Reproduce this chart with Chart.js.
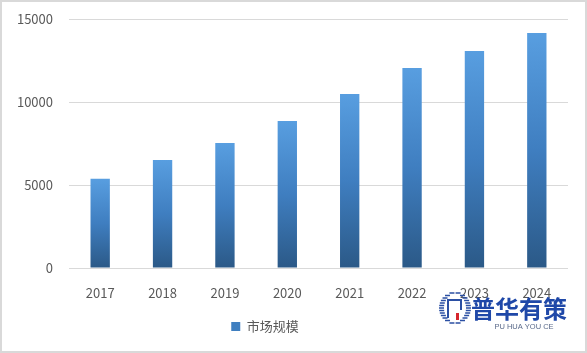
<!DOCTYPE html>
<html>
<head>
<meta charset="utf-8">
<script src="https://cdn.jsdelivr.net/npm/chart.js@4"></script>
<style>
  html, body { margin: 0; padding: 0; background: #fff; }
  #wrap { width: 587px; height: 353px; box-sizing: border-box; border: 2px solid #d9d9d9; }
</style>
</head>
<body>
<div id="wrap"><canvas id="chart" width="583" height="349"></canvas></div>
<script>
'use strict'

var years = ["2017", "2018", "2019", "2020", "2021", "2022", "2023", "2024"];
var marketSize = [5380, 6500, 7530, 8860, 10480, 12050, 13070, 14160];
var yTicks = [0, 5000, 10000, 15000];
var seriesName = "市场规模";

var fontFamily = "'Noto Sans CJK SC', 'Noto Sans', sans-serif";

// gradient per bar, light at top and dark at the bottom
function barGradient(context) {
    var chart = context.chart;
    if (!chart.chartArea || context.type !== 'data') {
        return '#3f7fc0';
    }
    var yScale = chart.scales.y;
    var top = yScale.getPixelForValue(context.parsed.y);
    var bottom = yScale.getPixelForValue(0);
    var g = chart.ctx.createLinearGradient(0, top, 0, bottom);
    g.addColorStop(0, '#589ee0');
    g.addColorStop(0.5, '#3f7ec0');
    g.addColorStop(1, '#2b5987');
    return g;
}

// legend sits a bit left of centre in the original
var legendShift = {
    id: 'legendShift',
    afterLayout: function (chart) {
        if (chart.legend) {
            chart.legend.left -= 20;
            chart.legend.right -= 20;
        }
    }
};

// watermark drawn on top of the chart (canvas is offset 2px by the border)
var watermark = {
    id: 'watermark',
    afterDraw: function (chart) {
        var ctx = chart.ctx;
        ctx.save();
        var cx = 453, cy = 306, r = 16;
        ctx.strokeStyle = '#2b4fa3';
        ctx.lineWidth = 1.6;
        for (var i = -6; i <= 6; i++) {
            var y = cy + i * 2.5;
            var dx = Math.sqrt(Math.max(0, r * r - (i * 2.5) * (i * 2.5)));
            ctx.beginPath();
            ctx.moveTo(cx - dx, y);
            ctx.lineTo(cx - dx + 5, y);
            ctx.moveTo(cx + dx - 5, y);
            ctx.lineTo(cx + dx, y);
            ctx.stroke();
        }
        ctx.lineWidth = 2;
        ctx.beginPath();
        ctx.moveTo(cx - 7, cy + 10);
        ctx.lineTo(cx - 7, cy - 8);
        ctx.lineTo(cx + 6, cy - 8);
        ctx.lineTo(cx + 6, cy + 2);
        ctx.stroke();
        ctx.fillStyle = '#d6262c';
        ctx.fillRect(cx + 1, cy + 5, 3, 7);
        ctx.fillStyle = '#1f48a8';
        ctx.font = "bold 24px " + fontFamily;
        ctx.textBaseline = 'middle';
        ctx.textAlign = 'left';
        ctx.fillText("普华有策", 469, 307);
        ctx.fillStyle = '#5a6a8a';
        ctx.font = "7.5px 'Liberation Sans', sans-serif";
        ctx.textAlign = 'center';
        ctx.fillText("PU HUA YOU CE", 522, 325);
        ctx.restore();
    }
};

var ctx = document.getElementById('chart').getContext('2d');
var chart = new Chart(ctx, {
    type: 'bar',
    data: {
        labels: years,
        datasets: [{
            label: seriesName,
            data: marketSize,
            backgroundColor: barGradient,
            borderWidth: 0,
            categoryPercentage: 1,
            barPercentage: 0.31
        }]
    },
    options: {
        responsive: false,
        animation: false,
        layout: { padding: { left: 0, right: 17, top: 17, bottom: 8 } },
        scales: {
            x: {
                grid: { display: false },
                border: { display: false },
                ticks: {
                    color: '#595959',
                    font: { family: fontFamily, size: 13 },
                    padding: 9
                },
                afterFit: function (scale) { scale.height = 40; }
            },
            y: {
                min: 0,
                max: 15000,
                afterBuildTicks: function (scale) {
                    scale.ticks = yTicks.map(function (v) { return { value: v }; });
                },
                grid: { color: '#d9d9d9', lineWidth: 1, drawTicks: true, tickLength: 12, tickColor: 'rgba(0,0,0,0)' },
                border: { display: false },
                ticks: {
                    color: '#595959',
                    font: { family: fontFamily, size: 13 },
                    padding: 4,
                    callback: function (value) { return String(value); }
                },
                afterFit: function (scale) { scale.width = 67; }
            }
        },
        plugins: {
            tooltip: { enabled: false },
            legend: {
                position: 'bottom',
                labels: {
                    color: '#595959',
                    font: { family: fontFamily, size: 13 },
                    boxWidth: 9,
                    boxHeight: 9,
                    padding: 12,
                    generateLabels: function (chart) {
                        return [{
                            text: seriesName,
                            fillStyle: '#3f7fc0',
                            strokeStyle: '#3f7fc0',
                            lineWidth: 0,
                            fontColor: '#595959',
                            datasetIndex: 0
                        }];
                    }
                }
            }
        }
    },
    plugins: [legendShift, watermark]
});
</script>
</body>
</html>
